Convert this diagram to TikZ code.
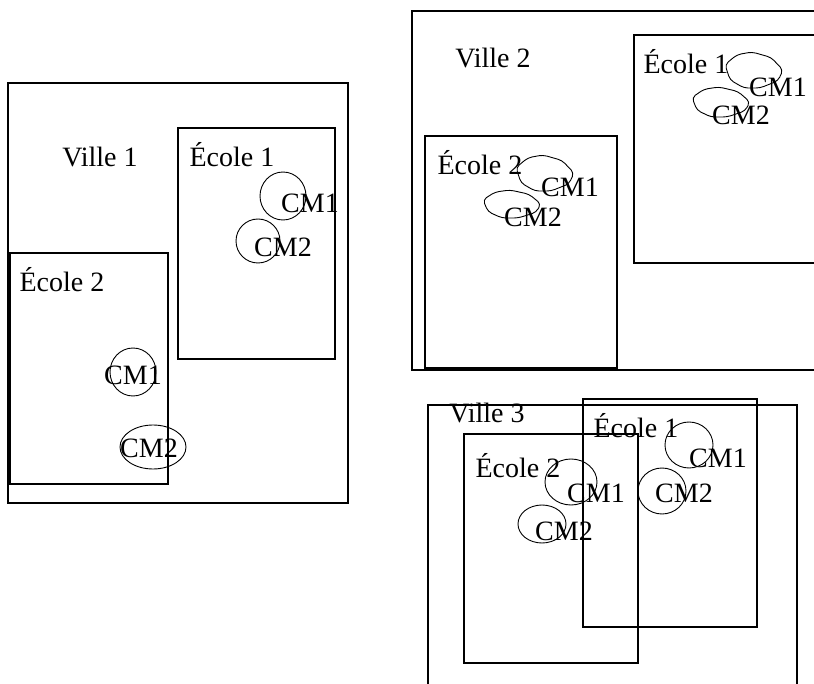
\documentclass[tikz,border=0pt]{standalone}
\usepackage{fontspec}
\setmainfont{Liberation Serif}
\usepackage{tikz}
\usetikzlibrary{calc}
\tikzset{
  villebox/.style={draw,line width=1.1pt},
  ecolebox/.style={draw,line width=1.1pt},
  cmring/.style={draw,line width=0.9pt},
  cmblob/.style={draw,line width=0.9pt,rounded corners=4pt},
  grplabel/.style={font=\fontsize{28}{33}\selectfont,anchor=base,inner sep=0pt},
}
\begin{document}
\begin{tikzpicture}[x=1pt,y=-1pt]
\useasboundingbox (0,0) rectangle (814,684);
\clip (0,0) rectangle (814,684);
% Ville 1
\draw[villebox] (8,83) rectangle (348,503);
\draw[ecolebox] (178,128) rectangle (335,359);
\draw[ecolebox] (10,253) rectangle (168,484);
\node[grplabel] (v1) at (100,167) {Ville 1};
\node[grplabel] (v1e1) at (232,167) {École 1};
\node[grplabel] (v1e2) at (62,292) {École 2};
\draw[cmring] (283,196) ellipse [x radius=23,y radius=24];
\draw[cmring] (258,241) ellipse [x radius=22,y radius=22];
\draw[cmring] (133,372) ellipse [x radius=23,y radius=24];
\draw[cmring] (153,447) ellipse [x radius=33,y radius=22];
\node[grplabel] (v1e1a) at (310,213) {CM1};
\node[grplabel] (v1e1b) at (283,257) {CM2};
\node[grplabel] (v1e2a) at (133,385) {CM1};
\node[grplabel] (v1e2b) at (149,457) {CM2};
% Ville 2
\draw[villebox] (412,11) rectangle (830,370);
\draw[ecolebox] (634,35) rectangle (830,263);
\draw[ecolebox] (425,136) rectangle (617,368);
\node[grplabel] (v2) at (493,68) {Ville 2};
\node[grplabel] (v2e1) at (686,74) {École 1};
\node[grplabel] (v2e2) at (480,175) {École 2};
\foreach \cx/\cy/\hh in {545/173/18,512/204/14,754/70/18,721/102/15}{
  \draw[cmblob,shift={(\cx,\cy)}] (-29,-0.3*\hh) -- (-17,-0.85*\hh) -- (-2,-\hh)
    -- (17,-0.7*\hh) -- (29,0) -- (24,0.6*\hh) -- (6,\hh) -- (-10,\hh)
    -- (-24,0.55*\hh) -- cycle;
}
\node[grplabel] (v2e1a) at (778,97) {CM1};
\node[grplabel] (v2e1b) at (741,125) {CM2};
\node[grplabel] (v2e2a) at (570,197) {CM1};
\node[grplabel] (v2e2b) at (533,227) {CM2};
% Ville 3
\draw[villebox] (428,405) rectangle (797,700);
\draw[ecolebox] (583,399) rectangle (757,627);
\draw[ecolebox] (464,434) rectangle (638,663);
\node[grplabel] (v3) at (487,423) {Ville 3};
\node[grplabel] (v3e1) at (636,438) {École 1};
\node[grplabel] (v3e2) at (518,477) {École 2};
\draw[cmring] (689,445) ellipse [x radius=24,y radius=23];
\draw[cmring] (662,491) ellipse [x radius=24,y radius=23];
\draw[cmring] (571,482) ellipse [x radius=26,y radius=23];
\draw[cmring] (542,524) ellipse [x radius=24,y radius=19];
\node[grplabel] (v3e1a) at (718,467) {CM1};
\node[grplabel] (v3e1b) at (684,502) {CM2};
\node[grplabel] (v3e2a) at (596,502) {CM1};
\node[grplabel] (v3e2b) at (564,540) {CM2};
\end{tikzpicture}
\end{document}
